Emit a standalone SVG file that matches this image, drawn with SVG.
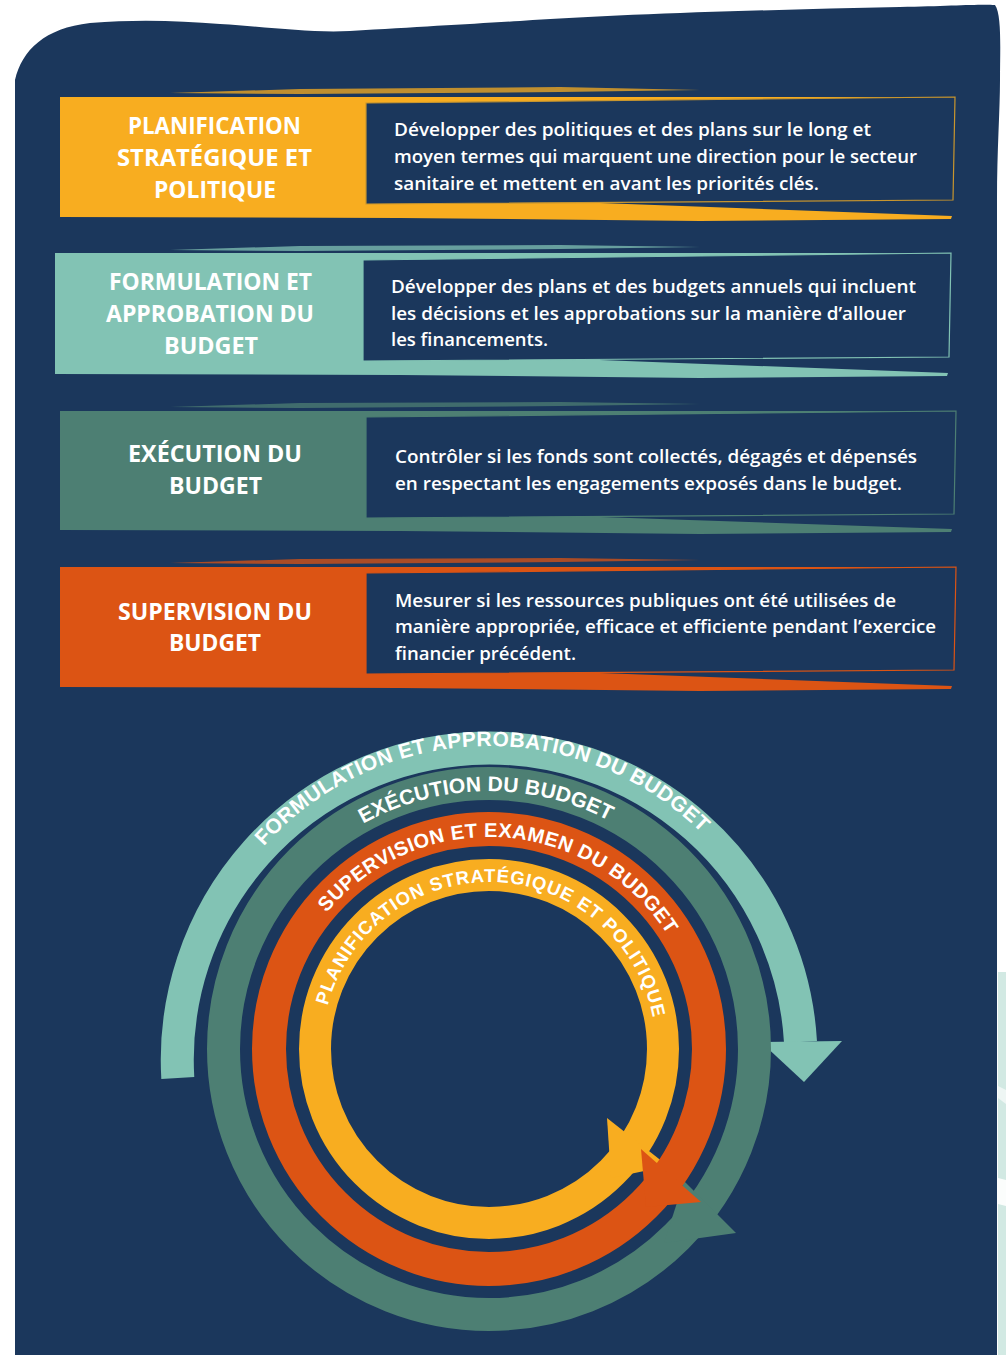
<svg xmlns="http://www.w3.org/2000/svg" width="1006" height="1355" viewBox="0 0 1006 1355">
<style>
.title{font-family:"Open Sans","Liberation Sans",sans-serif;font-weight:700;font-size:24px;fill:#fff;text-anchor:middle}
.desc{font-family:"Open Sans","Liberation Sans",sans-serif;font-weight:600;font-size:18px;fill:#fff}
.rt{font-family:"Liberation Sans",Arial,sans-serif;font-weight:700;fill:#fff}
.box{fill:#1B375C;stroke-width:1.2}
.ring{fill:none}
</style>
<defs>
<path id="pTeal" d="M263.8,846.3 A303,303 0 0 1 701.8,833.3"/>
<path id="pGreen" d="M363.1,823.8 A259,259 0 0 1 609.3,820.8"/>
<path id="pOrange" d="M326.6,912.7 A212,212 0 0 1 667.4,934.5"/>
<path id="pYellow" d="M327.7,1005.8 A167,167 0 0 1 653.1,1018"/>
</defs>
<rect width="1006" height="1355" fill="#fff"/>
<path d="M15,1355 L15,80 C22,50 45,28 90,23 C140,19 180,21 220,24 C270,27 310,33 350,31 C420,27 470,24 520,21 C620,14 760,10 900,7 C950,6 980,4 995,5 C1002,15 1000,50 1000,80 C1000,110 997,150 997,200 L997,1355 Z" fill="#1B375C"/>
<rect x="998" y="972" width="8" height="383" fill="#D2E9E3"/>
<polygon points="998,1086 1006,1090 1006,1104 998,1098" fill="#EEF6F4"/>
<polygon points="998,1178 1006,1180 1006,1206 998,1204" fill="#FBFDFC"/>

<g id="banner-planification">
<polygon points="60,97 955,97 955,100 620,150 600,203 952,216 951,219 700,221 400,218 60,217" fill="#F8AD20"/>
<polygon points="170,93 300,89 560,87 700,90 560,92 300,94" fill="#F8AD20" opacity="0.75"/>
<polygon class="box" points="366,103 955,97 953,200 366,204" stroke="#C9962E"/>
<text class="title" x="214.5" y="134" textLength="173" lengthAdjust="spacingAndGlyphs">PLANIFICATION</text>
<text class="title" x="214.5" y="166" textLength="195" lengthAdjust="spacingAndGlyphs">STRATÉGIQUE ET</text>
<text class="title" x="215" y="198" textLength="122" lengthAdjust="spacingAndGlyphs">POLITIQUE</text>
<text class="desc" x="394" y="136" textLength="477" lengthAdjust="spacingAndGlyphs">Développer des politiques et des plans sur le long et</text>
<text class="desc" x="394" y="163" textLength="523" lengthAdjust="spacingAndGlyphs">moyen termes qui marquent une direction pour le secteur</text>
<text class="desc" x="394" y="190" textLength="425" lengthAdjust="spacingAndGlyphs">sanitaire et mettent en avant les priorités clés.</text>
</g>

<g id="banner-formulation">
<polygon points="55,253 951,253 951,256 620,305 600,360 948,373 947,376 700,378 400,375 55,374" fill="#82C3B4"/>
<polygon points="170,250 300,246 560,245 700,247 560,249 300,251" fill="#82C3B4" opacity="0.75"/>
<polygon class="box" points="363,260 951,253 949,357 363,361" stroke="#82C3B4"/>
<text class="title" x="210.5" y="290" textLength="203" lengthAdjust="spacingAndGlyphs">FORMULATION ET</text>
<text class="title" x="210" y="322" textLength="208" lengthAdjust="spacingAndGlyphs">APPROBATION DU</text>
<text class="title" x="211" y="354" textLength="94" lengthAdjust="spacingAndGlyphs">BUDGET</text>
<text class="desc" x="391" y="293" textLength="525" lengthAdjust="spacingAndGlyphs">Développer des plans et des budgets annuels qui incluent</text>
<text class="desc" x="391" y="320" textLength="515" lengthAdjust="spacingAndGlyphs">les décisions et les approbations sur la manière d’allouer</text>
<text class="desc" x="391" y="346" textLength="157" lengthAdjust="spacingAndGlyphs">les financements.</text>
</g>

<g id="banner-execution">
<polygon points="60,411 956,411 956,414 620,465 600,517 952,529 951,532 700,534 400,531 60,530" fill="#4D7F73"/>
<polygon points="170,407 300,403 560,402 700,404 560,406 300,408" fill="#4D7F73" opacity="0.75"/>
<polygon class="box" points="366,417 956,411 954,514 366,518" stroke="#4D7F73"/>
<text class="title" x="215" y="462" textLength="174" lengthAdjust="spacingAndGlyphs">EXÉCUTION DU</text>
<text class="title" x="215.5" y="494" textLength="93" lengthAdjust="spacingAndGlyphs">BUDGET</text>
<text class="desc" x="395" y="463" textLength="522" lengthAdjust="spacingAndGlyphs">Contrôler si les fonds sont collectés, dégagés et dépensés</text>
<text class="desc" x="395" y="490" textLength="507" lengthAdjust="spacingAndGlyphs">en respectant les engagements exposés dans le budget.</text>
</g>

<g id="banner-supervision">
<polygon points="60,567 956,567 956,570 620,620 600,673 952,686 951,689 700,691 400,688 60,687" fill="#DC5414"/>
<polygon points="170,563 300,559 560,558 700,560 560,562 300,564" fill="#DC5414" opacity="0.75"/>
<polygon class="box" points="366,573 956,567 954,670 366,674" stroke="#DC5414"/>
<text class="title" x="215" y="620" textLength="194" lengthAdjust="spacingAndGlyphs">SUPERVISION DU</text>
<text class="title" x="215" y="651" textLength="92" lengthAdjust="spacingAndGlyphs">BUDGET</text>
<text class="desc" x="395" y="607" textLength="501" lengthAdjust="spacingAndGlyphs">Mesurer si les ressources publiques ont été utilisées de</text>
<text class="desc" x="395" y="633" textLength="541" lengthAdjust="spacingAndGlyphs">manière appropriée, efficace et efficiente pendant l’exercice</text>
<text class="desc" x="395" y="660" textLength="181" lengthAdjust="spacingAndGlyphs">financier précédent.</text>
</g>

<g id="cycle-connectors">
<g id="ring-formulation">
<path class="ring" d="M177.8,1078 A311.5,311.5 0 1 1 800.5,1042" stroke="#82C3B4" stroke-width="33"/>
<polygon points="761,1042 842,1041 804,1082" fill="#82C3B4"/>
<text class="rt" font-size="21"><textPath href="#pTeal" textLength="489" lengthAdjust="spacing">FORMULATION ET APPROBATION DU BUDGET</textPath></text>
</g>
<g id="ring-execution">
<circle class="ring" cx="489" cy="1049" r="265.5" stroke="#4D7F73" stroke-width="33"/>
<polygon points="684,1181 736,1233 664,1243" fill="#4D7F73"/>
<text class="rt" font-size="21"><textPath href="#pGreen" textLength="256" lengthAdjust="spacing">EXÉCUTION DU BUDGET</textPath></text>
</g>
<g id="ring-planification">
<circle class="ring" cx="489" cy="1049" r="174" stroke="#F8AD20" stroke-width="32"/>
<polygon points="607,1118 668,1166 611,1178" fill="#F8AD20"/>
<text class="rt" font-size="18.5"><textPath href="#pYellow" textLength="449" lengthAdjust="spacing">PLANIFICATION STRATÉGIQUE ET POLITIQUE</textPath></text>
</g>
<g id="ring-supervision">
<circle class="ring" cx="489" cy="1049" r="220" stroke="#DC5414" stroke-width="34"/>
<polygon points="641,1149 701,1202 646,1207" fill="#DC5414"/>
<text class="rt" font-size="20"><textPath href="#pOrange" textLength="397" lengthAdjust="spacing">SUPERVISION ET EXAMEN DU BUDGET</textPath></text>
</g>
</g>
</svg>
